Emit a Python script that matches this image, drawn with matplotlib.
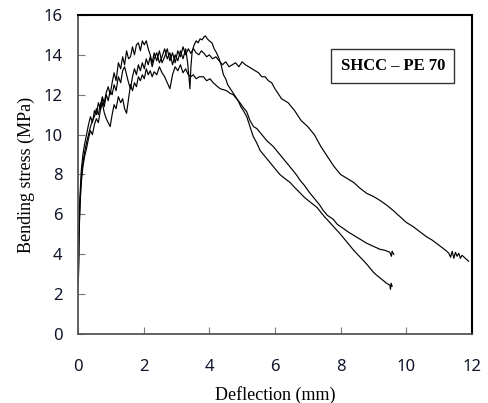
import matplotlib
matplotlib.use("Agg")
import matplotlib.pyplot as plt

# ---- data ----
xl = [0.01, 0.03, 0.06, 0.1, 0.15, 0.2, 0.26, 0.32, 0.38, 0.44, 0.5, 0.56, 0.62, 0.68, 0.74, 0.8,
      0.86, 0.92, 0.98, 1.04, 1.1, 1.16, 1.23, 1.3, 1.36, 1.42, 1.48, 1.54, 1.6, 1.66, 1.72, 1.78,
      1.84, 1.9, 1.96, 2.02, 2.08, 2.14, 2.2, 2.26, 2.32, 2.4, 2.48, 2.56, 2.64, 2.72, 2.8, 2.88,
      2.96, 3.04, 3.12, 3.2, 3.28, 3.36, 3.44, 3.52, 3.6, 3.68, 3.76, 3.84, 3.92, 4.0, 4.1, 4.2,
      4.3, 4.4, 4.5, 4.6, 4.7, 4.8, 4.9, 5.0, 5.1, 5.2, 5.3, 5.4, 5.5, 5.6, 5.7, 5.8, 5.9, 6.0,
      6.2, 6.4, 6.6, 6.8, 7.0, 7.2, 7.4, 7.6, 7.8, 8.0, 8.2, 8.4, 8.6, 8.8, 9.0, 9.2, 9.4, 9.6,
      9.8, 10.0, 10.2, 10.4, 10.6, 10.8, 11.0, 11.2, 11.3, 11.35, 11.4, 11.45, 11.5, 11.55, 11.6,
      11.65, 11.7, 11.8, 11.9]
yl = [2.5, 5.2, 6.9, 8.2, 9.0, 9.5, 10.0, 10.5, 10.9, 10.6, 11.2, 11.0, 11.6, 11.3, 11.9, 11.6,
      12.1, 12.4, 12.0, 12.6, 13.1, 12.7, 13.6, 13.3, 13.9, 13.5, 14.2, 13.8, 13.9, 14.4, 14.0, 14.5,
      14.6, 14.2, 14.7, 14.5, 14.7, 14.3, 14.0, 13.6, 14.1, 13.7, 14.2, 13.6, 13.9, 14.3, 13.7, 14.1,
      13.6, 14.2, 13.9, 14.4, 14.0, 14.3, 14.07, 14.3, 14.1, 14.0, 14.2, 14.07, 13.9, 14.0, 13.8, 13.9,
      13.7, 13.5, 13.65, 13.4, 13.5, 13.6, 13.4, 13.65, 13.5, 13.4, 13.3, 13.2, 13.1, 12.9, 12.9, 12.7,
      12.6, 12.3, 11.8, 11.6, 11.2, 10.7, 10.4, 10.0, 9.4, 8.9, 8.4, 8.0, 7.8, 7.6, 7.3, 7.05,
      6.9, 6.7, 6.47, 6.2, 5.9, 5.6, 5.4, 5.15, 4.9, 4.7, 4.45, 4.2, 4.05, 3.85, 4.15, 3.8,
      4.1, 3.9, 4.05, 3.8, 3.95, 3.8, 3.65]

xp = [0.01, 0.03, 0.06, 0.1, 0.15, 0.2, 0.26, 0.32, 0.38, 0.44, 0.5, 0.56, 0.62, 0.68, 0.74, 0.8,
      0.86, 0.92, 0.98, 1.04, 1.1, 1.16, 1.23, 1.3, 1.36, 1.42, 1.48, 1.54, 1.6, 1.66, 1.72, 1.78,
      1.84, 1.9, 1.96, 2.02, 2.08, 2.14, 2.2, 2.26, 2.32, 2.4, 2.48, 2.56, 2.64, 2.72, 2.8, 2.88,
      2.96, 3.04, 3.12, 3.2, 3.28, 3.34, 3.38, 3.41, 3.44, 3.48, 3.54, 3.6, 3.66, 3.72, 3.78, 3.84,
      3.88, 3.94, 4.0, 4.08, 4.15, 4.22, 4.3, 4.36, 4.43, 4.5, 4.56, 4.64, 4.72, 4.8, 4.88, 4.96,
      5.04, 5.14, 5.24, 5.34, 5.44, 5.55, 5.7, 5.85, 6.0, 6.15, 6.3, 6.46, 6.6, 6.77, 6.9, 7.05,
      7.28, 7.5, 7.78, 8.0, 8.2, 8.4, 8.6, 8.8, 9.0, 9.1, 9.25, 9.4, 9.5, 9.52, 9.54, 9.57]
yp = [2.5, 5.0, 6.6, 7.8, 8.6, 9.1, 9.6, 10.0, 10.4, 10.7, 10.9, 11.3, 11.0, 11.5, 11.8, 11.4,
      12.0, 11.7, 12.2, 12.0, 12.5, 12.2, 12.9, 12.6, 13.2, 13.4, 13.0, 12.6, 12.3, 12.9, 13.3, 13.0,
      13.5, 13.2, 13.6, 13.3, 13.8, 13.5, 13.9, 13.4, 13.8, 14.1, 13.6, 13.9, 14.3, 13.8, 14.1, 13.5,
      14.0, 13.7, 14.2, 13.8, 14.3, 13.6, 12.9, 12.3, 13.4, 14.2, 14.5, 14.7, 14.6, 14.8, 14.75, 14.9,
      14.95, 14.8, 14.7, 14.6, 14.3, 14.1, 13.8, 13.5, 13.0, 12.8, 12.5, 12.3, 12.1, 11.9, 11.7, 11.4,
      11.2, 10.9, 10.4, 9.9, 9.6, 9.2, 8.9, 8.6, 8.3, 8.0, 7.8, 7.6, 7.35, 7.07, 6.85, 6.65,
      6.35, 5.9, 5.4, 5.0, 4.6, 4.2, 3.85, 3.5, 3.1, 2.95, 2.75, 2.55, 2.45, 2.25, 2.55, 2.4]

xt = [0.01, 0.03, 0.06, 0.1, 0.15, 0.2, 0.26, 0.32, 0.38, 0.44, 0.5, 0.56, 0.62, 0.68, 0.74, 0.8,
      0.86, 0.92, 0.98, 1.04, 1.1, 1.16, 1.23, 1.3, 1.36, 1.42, 1.48, 1.54, 1.6, 1.66, 1.72, 1.78,
      1.84, 1.9, 1.96, 2.02, 2.08, 2.14, 2.2, 2.26, 2.32, 2.4, 2.48, 2.56, 2.64, 2.72, 2.8, 2.88,
      2.96, 3.04, 3.12, 3.2, 3.28, 3.36, 3.44, 3.51, 3.6, 3.7, 3.82, 3.92, 4.02, 4.12, 4.22, 4.33,
      4.43, 4.53, 4.63, 4.73, 4.83, 4.93, 5.04, 5.14, 5.24, 5.35, 5.45, 5.55, 5.65, 5.75, 5.85, 5.95,
      6.1, 6.25, 6.4, 6.55, 6.67, 6.77, 6.9, 7.05, 7.2, 7.35, 7.47, 7.6, 7.78, 7.9, 8.08, 8.25,
      8.4, 8.6, 8.8, 9.0, 9.2, 9.35, 9.5, 9.55, 9.57, 9.62]
yt = [2.5, 4.8, 6.4, 7.6, 8.4, 8.9, 9.3, 9.8, 10.2, 10.0, 10.5, 10.8, 10.6, 11.2, 11.6, 11.1,
      10.8, 10.6, 10.4, 11.0, 11.5, 11.3, 11.9, 11.6, 11.8, 11.3, 11.07, 11.8, 12.5, 12.2, 12.6, 12.4,
      12.9, 12.7, 13.0, 12.8, 13.3, 13.0, 13.2, 12.9, 13.15, 13.0, 13.4, 13.1, 12.9, 12.6, 12.3, 13.0,
      13.4, 13.2, 13.5, 13.1, 13.3, 13.0, 12.9, 13.0, 12.8, 12.9, 12.9, 12.7, 12.8, 12.6, 12.45, 12.3,
      12.25, 12.2, 12.07, 12.0, 11.8, 11.6, 11.35, 11.15, 10.7, 10.4, 10.3, 10.1, 9.9, 9.7, 9.55, 9.4,
      9.1, 8.8, 8.5, 8.2, 7.95, 7.7, 7.45, 7.1, 6.8, 6.5, 6.2, 5.95, 5.75, 5.5, 5.3, 5.1,
      4.95, 4.75, 4.55, 4.4, 4.25, 4.2, 4.1, 3.9, 4.15, 4.0]

xticks = [0, 2, 4, 6, 8, 10, 12]
yticks = [0, 2, 4, 6, 8, 10, 12, 14, 16]
xlabel = "Deflection (mm)"
ylabel = "Bending stress (MPa)"
label_text = "SHCC \u2013 PE 70"

# ---- figure ----
fig = plt.figure(figsize=(4.89, 4.03), dpi=100)
ax = fig.add_axes([0.1595, 0.171, 0.8055, 0.792])

for xs, ys in [(xl, yl), (xp, yp), (xt, yt)]:
    ax.plot(xs, ys, color="black", lw=0.85)

ax.set_xlim(0, 12)
ax.set_ylim(0, 16)
ax.set_xticks(xticks)
ax.set_yticks(yticks)

tick_font = {"family": "Noto Sans", "size": 12}
ax.set_xticklabels([str(v) for v in xticks], fontdict=tick_font)
ax.set_yticklabels([str(v) for v in yticks], fontdict=tick_font)
ax.tick_params(axis="both", direction="in", length=5, width=0.8, colors="#777777",
               labelcolor="#10142a")
ax.tick_params(axis="x", pad=18)
ax.tick_params(axis="y", pad=11)

for s in ["left", "bottom"]:
    ax.spines[s].set_color("#555555")
    ax.spines[s].set_linewidth(1.3)
for s in ["top", "right"]:
    ax.spines[s].set_color("black")
    ax.spines[s].set_linewidth(1.5)

ax.set_xlabel(xlabel, family="Liberation Serif", fontsize=13, labelpad=8)
ax.set_ylabel(ylabel, family="Liberation Serif", fontsize=13, labelpad=6)

ax.text(9.59, 13.43, label_text, family="Liberation Serif", fontweight="bold", fontsize=12,
        ha="center", va="center",
        bbox=dict(boxstyle="square,pad=0.55", facecolor="white", edgecolor="#333333", linewidth=1.0))

fig.savefig("out.png", dpi=100)
